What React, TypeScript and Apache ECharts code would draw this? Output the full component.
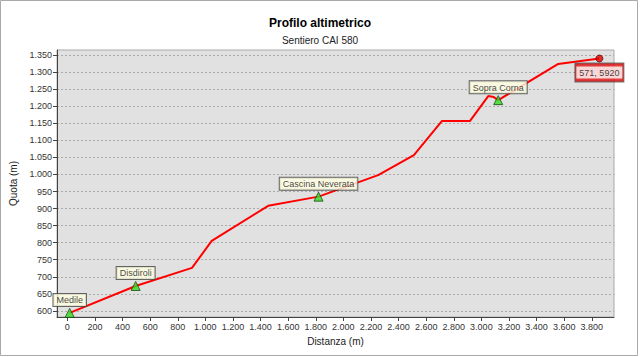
import React, { useEffect, useRef } from "react";
import * as echarts from "echarts";

const distances = [17, 495, 903, 1046, 1455, 1820, 2252, 2511, 2715, 2918, 3050, 3090, 3122, 3557, 3855];
const quotas = [594, 673, 726, 805, 908, 935, 998, 1057, 1157, 1157, 1230, 1227, 1218, 1324, 1340];

const waypointNames = ["Medile", "Disdiroli", "Cascina Neverata", "Sopra Corna"];
const waypointDist = [17, 495, 1820, 3122];
const waypointQuota = [594, 673, 935, 1218];

const endLabel = "571, 5920";

const xTicks = [0, 200, 400, 600, 800, 1000, 1200, 1400, 1600, 1800, 2000, 2200, 2400, 2600, 2800, 3000, 3200, 3400, 3600, 3800];
const yTicks = [600, 650, 700, 750, 800, 850, 900, 950, 1000, 1050, 1100, 1150, 1200, 1250, 1300, 1350];

const titleText = "Profilo altimetrico";
const subtitleText = "Sentiero CAI 580";
const xName = "Distanza (m)";
const yName = "Quota (m)";

const FONT = '"Liberation Sans", Arial, sans-serif';

function fmt(v: number): string {
  const s = String(Math.round(v));
  return s.replace(/\B(?=(\d{3})+(?!\d))/g, ".");
}

export default function App() {
  const ref = useRef<HTMLDivElement>(null);
  useEffect(() => {
    if (!ref.current) return;
    const chart = echarts.init(ref.current, undefined, { renderer: "svg" });
    const last = distances.length - 1;
    chart.setOption({
      animation: false,
      backgroundColor: "#ffffff",
      textStyle: { fontFamily: FONT },
      title: [
        {
          text: titleText,
          left: "center",
          top: 12,
          textStyle: { fontSize: 12, fontWeight: "bold", color: "#000", fontFamily: FONT },
        },
        {
          text: subtitleText,
          left: "center",
          top: 30,
          textStyle: { fontSize: 10, fontWeight: "normal", color: "#222", fontFamily: FONT },
        },
      ],
      graphic: [
        {
          type: "rect",
          shape: { x: 0.5, y: 0.5, width: 637, height: 355 },
          style: { fill: "none", stroke: "#aaaaaa", lineWidth: 1 },
          silent: true,
          z: 100,
        },
      ],
      grid: {
        left: 57,
        right: 26,
        top: 50,
        bottom: 40,
        show: true,
        backgroundColor: "#e1e1e1",
        borderColor: "#aaaaaa",
        borderWidth: 1,
      },
      xAxis: {
        type: "value",
        min: -75,
        max: 3961,
        name: xName,
        nameLocation: "middle",
        nameGap: 19,
        nameTextStyle: { fontSize: 10, color: "#222", fontFamily: FONT },
        axisLine: { show: true, onZero: false, lineStyle: { color: "#444", width: 1 } },
        axisTick: { show: true, length: 4, lineStyle: { color: "#444" }, customValues: xTicks },
        axisLabel: {
          customValues: xTicks,
          fontSize: 9,
          color: "#333",
          margin: 5,
          formatter: (v: number) => fmt(v),
        },
        splitLine: { show: false },
      },
      yAxis: {
        type: "value",
        min: 582,
        max: 1365,
        name: yName,
        nameLocation: "middle",
        nameGap: 27,
        nameRotate: 90,
        nameTextStyle: { fontSize: 10, color: "#222", fontFamily: FONT },
        axisLine: { show: true, onZero: false, lineStyle: { color: "#444", width: 1 } },
        axisTick: { show: true, length: 4, lineStyle: { color: "#444" }, customValues: yTicks },
        axisLabel: {
          customValues: yTicks,
          fontSize: 9,
          color: "#333",
          margin: 5,
          formatter: (v: number) => fmt(v),
        },
        splitLine: {
          show: true,
          customValues: yTicks,
          lineStyle: { color: "#aaaaaa", type: [2, 2], width: 1 },
        },
      },
      series: [
        {
          type: "line",
          data: distances.map((d, i) => [d, quotas[i]]),
          showSymbol: false,
          symbol: "none",
          lineStyle: { color: "#ff0000", width: 2 },
          z: 3,
        },
        {
          type: "scatter",
          data: waypointDist.map((d, i) => ({ value: [d, waypointQuota[i]], name: waypointNames[i] })),
          symbol: "triangle",
          symbolSize: 9,
          itemStyle: { color: "#33dd22", borderColor: "#1a4a10", borderWidth: 1 },
          label: {
            show: true,
            position: "top",
            distance: 2,
            formatter: (p: any) => p.name,
            fontSize: 9,
            fontFamily: FONT,
            color: "#111",
            backgroundColor: "#ffffe1",
            borderColor: "#444",
            borderWidth: 1,
            padding: [2, 3, 1, 3],
          },
          z: 5,
        },
        {
          type: "scatter",
          data: [[distances[last], quotas[last]]],
          symbol: "circle",
          symbolSize: 7,
          itemStyle: { color: "#e00000", borderColor: "#600000", borderWidth: 1 },
          label: {
            show: true,
            position: "bottom",
            distance: 1,
            formatter: "{w|" + endLabel + "}",
            backgroundColor: "#e01010",
            borderColor: "#555",
            borderWidth: 1,
            padding: [3, 1, 3, 1],
            rich: {
              w: {
                backgroundColor: "#ffffff",
                color: "#111",
                fontSize: 9,
                fontFamily: FONT,
                padding: [2, 3, 1, 3],
              },
            },
          },
          z: 6,
        },
      ],
    });
    return () => chart.dispose();
  }, []);
  return (
    <div
      ref={ref}
      style={{ position: "fixed", left: 0, top: 0, width: 640, height: 357 }}
    />
  );
}
